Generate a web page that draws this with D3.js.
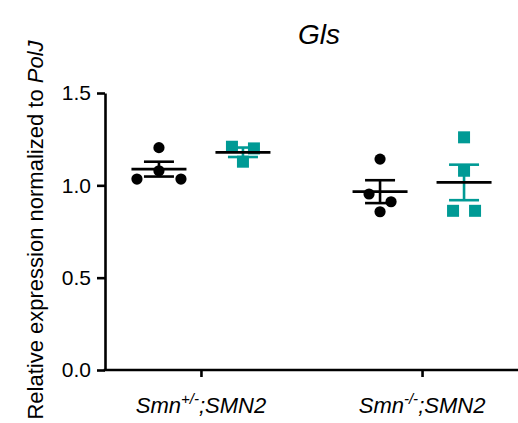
<!DOCTYPE html>
<html>
<head>
<meta charset="utf-8">
<script src="https://cdn.jsdelivr.net/npm/d3@7"></script>
<style>
  body { margin: 0; background: #fff; }
  text { font-family: "Liberation Sans", Arial, sans-serif; }
</style>
</head>
<body>
<div id="chart"></div>
<script>
// data
var groups = ["het", "ko"]
var groupSup = ["+/-", "-/-"]
var series = ["black", "teal"]
var seriesColor = ["#000000", "#009a95"]
var hetBlack = [1.204, 1.079, 1.034, 1.034]
var hetTeal = [1.209, 1.200, 1.128]
var koBlack = [1.142, 0.953, 0.911, 0.857]
var koTeal = [1.260, 1.079, 0.862, 0.862]
var yTicks = [0, 0.5, 1.0, 1.5]

var cells = [
    {group: "het", series: "black", values: hetBlack},
    {group: "het", series: "teal", values: hetTeal},
    {group: "ko", series: "black", values: koBlack},
    {group: "ko", series: "teal", values: koTeal}
]

var width = 518, height = 423
var svg = d3.select("#chart").append("svg")
    .attr("width", width)
    .attr("height", height)

var x = d3.scalePoint().domain(groups).range([105, 518]).padding(0.434)
var sub = d3.scalePoint().domain(series).range([-42, 42])
var y = d3.scaleLinear().domain([0, 1.5]).range([370, 93])
var color = d3.scaleOrdinal().domain(series).range(seriesColor)

// axes
var yAxis = svg.append("g")
    .attr("transform", "translate(105,0)")
    .call(d3.axisLeft(y).tickValues(yTicks).tickFormat(d3.format(".1f")).tickSize(8).tickSizeOuter(0).tickPadding(6))
yAxis.selectAll("path, line").attr("stroke", "#000").attr("stroke-width", 2.6)
yAxis.selectAll("text").style("font-size", "21px").attr("fill", "#000")

var xAxis = svg.append("g")
    .attr("transform", "translate(0,370)")
    .call(d3.axisBottom(x).tickSize(7).tickSizeOuter(0).tickFormat(""))
xAxis.select("path").attr("d", "M103.7,0H518")
xAxis.selectAll("path, line").attr("stroke", "#000").attr("stroke-width", 2.6)

// category labels with superscript
var lab = svg.append("g").selectAll("text")
    .data(groups)
    .enter().append("text")
    .attr("x", function(d) { return x(d) })
    .attr("y", 413)
    .attr("text-anchor", "middle")
    .style("font-size", "22px")
    .style("font-style", "italic")
lab.append("tspan").text("Smn")
lab.append("tspan")
    .attr("dy", -9)
    .style("font-size", "15px")
    .text(function(d, i) { return groupSup[i] })
lab.append("tspan").attr("dy", 9).text(";SMN2")

// title
svg.append("text")
    .attr("x", 319)
    .attr("y", 44)
    .attr("text-anchor", "middle")
    .style("font-size", "28px")
    .style("font-style", "italic")
    .text("Gls")

// y label
var yl = svg.append("text")
    .attr("transform", "translate(43,230) rotate(-90)")
    .attr("text-anchor", "middle")
    .style("font-size", "22px")
yl.append("tspan").text("Relative expression normalized to ")
yl.append("tspan").style("font-style", "italic").text("PolJ")

// prism-like column scatter: rows of close values spread sideways
function spread(values) {
    var step = 22, rowGap = 12
    var idx = values.map(function(v, i) { return i }).sort(function(a, b) { return values[b] - values[a] })
    var rows = [], cur = null
    idx.forEach(function(i) {
        if (!cur || y(values[i]) - y(values[cur[0]]) > rowGap) { cur = [i]; rows.push(cur) }
        else cur.push(i)
    })
    var off = []
    rows.forEach(function(r) {
        var n = r.length
        r.forEach(function(i, k) {
            if (n % 2 == 1) {
                var m = Math.ceil(k / 2)
                off[i] = k == 0 ? 0 : (k % 2 == 1 ? -m : m) * step
            } else {
                var m2 = Math.floor(k / 2) + 0.5
                off[i] = (k % 2 == 0 ? -m2 : m2) * step
            }
        })
    })
    return off
}

cells.forEach(function(c) {
    var cx = x(c.group) + sub(c.series)
    var col = color(c.series)
    var m = d3.mean(c.values)
    var sem = d3.deviation(c.values) / Math.sqrt(c.values.length)
    var off = spread(c.values)
    var g = svg.append("g")

    // points
    if (c.series == "black") {
        g.selectAll("circle").data(c.values).enter().append("circle")
            .attr("cx", function(d, i) { return cx + off[i] })
            .attr("cy", function(d) { return y(d) })
            .attr("r", 5.6)
            .attr("fill", col)
    } else {
        g.selectAll("rect").data(c.values).enter().append("rect")
            .attr("x", function(d, i) { return cx + off[i] - 6 })
            .attr("y", function(d) { return y(d) - 6 })
            .attr("width", 12)
            .attr("height", 12)
            .attr("fill", col)
    }

    // sem whiskers
    g.append("line")
        .attr("x1", cx).attr("x2", cx)
        .attr("y1", y(m - sem)).attr("y2", y(m + sem))
        .attr("stroke", col).attr("stroke-width", 2.6)
    ;[m - sem, m + sem].forEach(function(v) {
        g.append("line")
            .attr("x1", cx - 15).attr("x2", cx + 15)
            .attr("y1", y(v)).attr("y2", y(v))
            .attr("stroke", col).attr("stroke-width", 2.6)
    })

    // mean line
    g.append("line")
        .attr("x1", cx - 27.5).attr("x2", cx + 27.5)
        .attr("y1", y(m)).attr("y2", y(m))
        .attr("stroke", "#000").attr("stroke-width", 2.8)
})
</script>
</body>
</html>
